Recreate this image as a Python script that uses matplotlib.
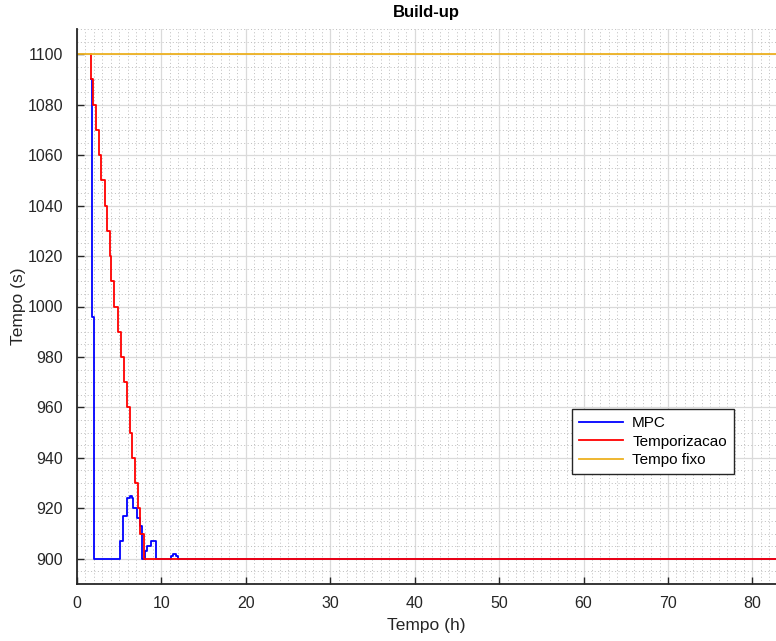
import matplotlib
matplotlib.use("Agg")
import matplotlib.pyplot as plt
from matplotlib.ticker import MultipleLocator

plt.rcParams['font.family'] = ['Liberation Sans', 'DejaVu Sans']

T_END = 82.8

# Temporizacao (red), step values
temp_t = [1.64, 1.68, 1.84, 2.27, 2.59, 2.86, 3.30, 3.57, 3.85, 4.05, 4.44,
          4.80, 5.23, 5.59, 5.94, 6.22, 6.50, 6.90, 7.20, 7.52, 7.92, T_END]
temp_v = [1100, 1090, 1080, 1070, 1060, 1050, 1040, 1030, 1020, 1010, 1000,
          990, 980, 970, 960, 950, 940, 930, 920, 910, 900, 900]

# MPC (blue), step values
mpc_t = [1.68, 1.72, 2.00, 5.04, 5.40, 5.90, 6.22, 6.54, 6.69, 7.05, 7.45,
         7.75, 8.05, 8.30, 8.80, 9.30, 11.15, 11.40, 11.75, 11.95, T_END]
mpc_v = [1090, 996, 900, 907, 917, 924, 925, 924, 920, 916, 913,
         900, 903, 905, 907, 900, 901, 902, 901, 900, 900]

# Tempo fixo (orange)
fixo_t = [0, T_END]
fixo_v = [1100, 1100]

fig = plt.figure(figsize=(7.76, 6.41), dpi=100)
ax = fig.add_axes([77 / 776, 1 - 584 / 641, (776 - 77) / 776, (584 - 29) / 641])

ax.plot(mpc_t, mpc_v, color="#0000ff", lw=1.3, drawstyle="steps-post", label="MPC")
ax.plot(temp_t, temp_v, color="#ff0000", lw=1.3, drawstyle="steps-post", label="Temporizacao")
ax.plot(fixo_t, fixo_v, color="#edb120", lw=1.3, label="Tempo fixo")

ax.set_xlim(0, T_END)
ax.set_ylim(890, 1110)
ax.xaxis.set_major_locator(MultipleLocator(10))
ax.yaxis.set_major_locator(MultipleLocator(20))
ax.xaxis.set_minor_locator(MultipleLocator(1))
ax.yaxis.set_minor_locator(MultipleLocator(5))

# grids
ax.grid(which="major", color="#dadada", lw=0.9, ls="-")
ax.grid(which="minor", color="#bdbdbd", lw=0.7, ls=(0, (1, 2.5)))
ax.set_axisbelow(True)

for s in ["top", "right"]:
    ax.spines[s].set_visible(False)
for s in ["left", "bottom"]:
    ax.spines[s].set_color("#262626")
    ax.spines[s].set_linewidth(1.3)

ax.tick_params(which="major", direction="in", length=5, width=1.0, colors="#262626",
               labelsize=11.5)
ax.tick_params(axis="x", pad=9)
ax.tick_params(axis="y", pad=10)
ax.tick_params(which="minor", length=0)

ax.set_title("Build-up", fontsize=12, fontweight="bold", color="#000000", pad=9)
ax.set_xlabel("Tempo (h)", fontsize=12.5, color="#262626", labelpad=5)
ax.set_ylabel("Tempo (s)", fontsize=12.5, color="#262626", labelpad=1)

leg = ax.legend(loc="lower left", bbox_to_anchor=(0.708, 0.198), borderaxespad=0,
                fontsize=11, fancybox=False, framealpha=1, edgecolor="#262626",
                handlelength=2.9, borderpad=0.45, labelspacing=0.3,
                handletextpad=0.6)
leg.get_frame().set_linewidth(1.0)

fig.savefig("out.png", dpi=100, facecolor="white")
